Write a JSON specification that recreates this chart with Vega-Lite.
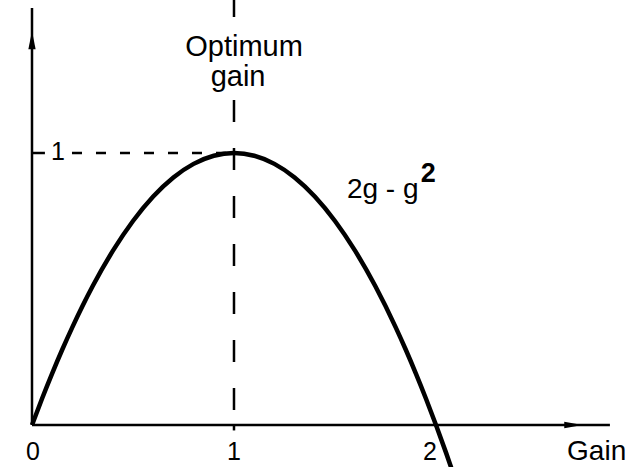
{
  "$schema": "https://vega.github.io/schema/vega-lite/v6.json",
  "width": 643,
  "height": 467,
  "autosize": {"type": "none"},
  "padding": 0,
  "background": "white",
  "config": {"view": {"stroke": null}},
  "encoding": {
    "x": {"type": "quantitative", "scale": {"domain": [-0.1584, 3.0248], "nice": false, "zero": false}, "axis": null},
    "y": {"type": "quantitative", "scale": {"domain": [-0.1544, 1.5625], "nice": false, "zero": false}, "axis": null}
  },
  "layer": [
    {
      "data": {"values": [{"x": 0, "y": 0, "x2": 2.861, "y2": 0}]},
      "mark": {"type": "rule", "color": "black", "strokeWidth": 2.5},
      "encoding": {"x": {"field": "x"}, "y": {"field": "y"}, "x2": {"field": "x2"}, "y2": {"field": "y2"}}
    },
    {
      "data": {"values": [{"x": 0, "y": 0, "x2": 0, "y2": 1.533}]},
      "mark": {"type": "rule", "color": "black", "strokeWidth": 2.5},
      "encoding": {"x": {"field": "x"}, "y": {"field": "y"}, "x2": {"field": "x2"}, "y2": {"field": "y2"}}
    },
    {
      "data": {"values": [{"x": 0, "y": 1, "x2": 0.064, "y2": 1}, {"x": 1, "y": 0, "x2": 1, "y2": -0.02}]},
      "mark": {"type": "rule", "color": "black", "strokeWidth": 2.5},
      "encoding": {"x": {"field": "x"}, "y": {"field": "y"}, "x2": {"field": "x2"}, "y2": {"field": "y2"}}
    },
    {
      "data": {"values": [{"x": 0, "y": 1.415}]},
      "mark": {"type": "point", "shape": "M0,-1L0.4,1L-0.4,1Z", "size": 330, "filled": true, "color": "black", "opacity": 1},
      "encoding": {"x": {"field": "x"}, "y": {"field": "y"}}
    },
    {
      "data": {"values": [{"x": 2.68, "y": 0}]},
      "mark": {"type": "point", "shape": "M1,0L-1,0.35L-1,-0.35Z", "size": 330, "filled": true, "color": "black", "opacity": 1},
      "encoding": {"x": {"field": "x"}, "y": {"field": "y"}}
    },
    {
      "data": {"values": [{"x": 1, "y": 1.5625, "x2": 1, "y2": 1.50}]},
      "mark": {"type": "rule", "color": "black", "strokeWidth": 2.5},
      "encoding": {"x": {"field": "x"}, "y": {"field": "y"}, "x2": {"field": "x2"}, "y2": {"field": "y2"}}
    },
    {
      "data": {"values": [{"x": 1, "y": 1.195, "x2": 1, "y2": 0}]},
      "mark": {"type": "rule", "color": "black", "strokeWidth": 2.5, "strokeDash": [22, 26]},
      "encoding": {"x": {"field": "x"}, "y": {"field": "y"}, "x2": {"field": "x2"}, "y2": {"field": "y2"}}
    },
    {
      "data": {"values": [{"x": 0.198, "y": 1, "x2": 1, "y2": 1}]},
      "mark": {"type": "rule", "color": "black", "strokeWidth": 2.5, "strokeDash": [10, 14]},
      "encoding": {"x": {"field": "x"}, "y": {"field": "y"}, "x2": {"field": "x2"}, "y2": {"field": "y2"}}
    },
    {
      "data": {"values": [
        {"g": 0, "v": 0}, {"g": 0.05, "v": 0.0975}, {"g": 0.1, "v": 0.19}, {"g": 0.15, "v": 0.2775},
        {"g": 0.2, "v": 0.36}, {"g": 0.25, "v": 0.4375}, {"g": 0.3, "v": 0.51}, {"g": 0.4, "v": 0.64},
        {"g": 0.5, "v": 0.75}, {"g": 0.6, "v": 0.84}, {"g": 0.7, "v": 0.91}, {"g": 0.8, "v": 0.96},
        {"g": 0.9, "v": 0.99}, {"g": 1.0, "v": 1.0}, {"g": 1.1, "v": 0.99}, {"g": 1.2, "v": 0.96},
        {"g": 1.3, "v": 0.91}, {"g": 1.4, "v": 0.84}, {"g": 1.5, "v": 0.75}, {"g": 1.6, "v": 0.64},
        {"g": 1.7, "v": 0.51}, {"g": 1.8, "v": 0.36}, {"g": 1.85, "v": 0.2775}, {"g": 1.9, "v": 0.19},
        {"g": 1.95, "v": 0.0975}, {"g": 2.0, "v": 0}, {"g": 2.05, "v": -0.1025}, {"g": 2.1, "v": -0.21}
      ]},
      "mark": {"type": "line", "color": "black", "strokeWidth": 4.5, "interpolate": "monotone", "clip": true},
      "encoding": {"x": {"field": "g"}, "y": {"field": "v"}}
    },
    {
      "data": {"values": [{"x": 1.05, "y": 1.358, "t": "Optimum"}, {"x": 1.02, "y": 1.245, "t": "gain"}]},
      "mark": {"type": "text", "font": "Liberation Sans", "fontSize": 29, "align": "center", "baseline": "alphabetic", "color": "black"},
      "encoding": {"x": {"field": "x"}, "y": {"field": "y"}, "text": {"field": "t"}}
    },
    {
      "data": {"values": [{"x": 0.005, "y": -0.128, "t": "0"}, {"x": 1.0, "y": -0.128, "t": "1"}, {"x": 1.97, "y": -0.128, "t": "2"}, {"x": 0.129, "y": 0.974, "t": "1"}]},
      "mark": {"type": "text", "font": "Liberation Sans", "fontSize": 25, "align": "center", "baseline": "alphabetic", "color": "black"},
      "encoding": {"x": {"field": "x"}, "y": {"field": "y"}, "text": {"field": "t"}}
    },
    {
      "data": {"values": [{"x": 2.649, "y": -0.128, "t": "Gain"}, {"x": 1.559, "y": 0.835, "t": "2g - g"}]},
      "mark": {"type": "text", "font": "Liberation Sans", "fontSize": 28, "align": "left", "baseline": "alphabetic", "color": "black"},
      "encoding": {"x": {"field": "x"}, "y": {"field": "y"}, "text": {"field": "t"}}
    },
    {
      "data": {"values": [{"x": 1.925, "y": 0.893, "t": "2"}]},
      "mark": {"type": "text", "font": "Liberation Sans", "fontSize": 27, "fontWeight": "bold", "align": "left", "baseline": "alphabetic", "color": "black"},
      "encoding": {"x": {"field": "x"}, "y": {"field": "y"}, "text": {"field": "t"}}
    }
  ]
}
